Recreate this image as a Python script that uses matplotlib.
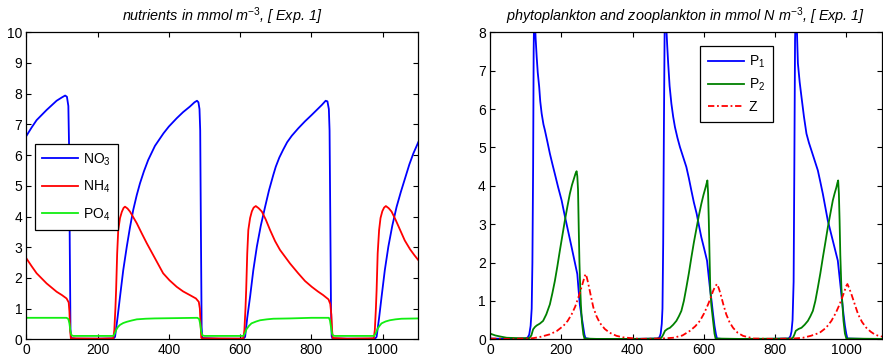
import numpy as np
import matplotlib
matplotlib.use('Agg')
import matplotlib.pyplot as plt

plt.rcParams['font.family'] = ['Liberation Sans', 'DejaVu Sans']
plt.rcParams['mathtext.fontset'] = 'custom'
plt.rcParams['mathtext.rm'] = 'Liberation Sans'
plt.rcParams['mathtext.it'] = 'Liberation Sans:italic'
plt.rcParams['mathtext.default'] = 'regular'

# =======================
#  data (time in days)
# =======================
no3_t = [0, 15, 29, 57, 85, 100, 109, 114, 118, 120, 122, 124, 126, 140, 200, 245, 249, 256, 263, 272,
         282, 291, 300, 310, 319, 330, 342, 361, 385, 400, 422, 440, 459, 472, 479, 483, 486, 488, 490, 492,
         494, 540, 600, 610, 614, 620, 628, 637, 647, 658, 670, 681, 693, 700, 710, 721, 732, 745, 763, 782,
         801, 815, 829, 840, 845, 849, 851, 853, 855, 857, 859, 900, 960, 979, 983, 990, 997, 1006, 1016, 1027,
         1039, 1051, 1063, 1075, 1086, 1100]
no3_v = [6.62, 6.9, 7.14, 7.47, 7.77, 7.88, 7.94, 7.9, 7.6, 6.3, 3.0, 0.3, 0.04, 0.02, 0.02, 0.03, 0.08, 0.7, 1.39, 2.25,
         3.02, 3.65, 4.21, 4.7, 5.08, 5.47, 5.84, 6.3, 6.71, 6.93, 7.2, 7.4, 7.58, 7.72, 7.77, 7.72, 7.5, 6.8, 3.5, 0.4,
         0.04, 0.02, 0.02, 0.03, 0.08, 0.7, 1.39, 2.25, 3.02, 3.7, 4.31, 4.85, 5.35, 5.62, 5.92, 6.18, 6.42, 6.63, 6.87, 7.1,
         7.31, 7.47, 7.63, 7.77, 7.75, 7.5, 6.8, 4.0, 1.0, 0.1, 0.03, 0.02, 0.02, 0.03, 0.08, 0.7, 1.39, 2.25, 3.02, 3.7,
         4.31, 4.8, 5.25, 5.7, 6.05, 6.42]

nh4_t = [0, 15, 29, 57, 85, 100, 113, 119, 121, 123, 125, 200, 244, 247, 250, 252, 255, 258, 263, 268,
         273, 277, 284, 291, 300, 310, 324, 338, 361, 384, 402, 422, 440, 459, 476, 484, 487, 489, 491, 494,
         600, 609, 612, 615, 617, 620, 623, 628, 633, 638, 644, 652, 661, 672, 684, 698, 712, 726, 740, 763,
         782, 801, 818, 833, 848, 853, 856, 858, 860, 900, 975, 978, 981, 983, 986, 990, 994, 999, 1004, 1009,
         1017, 1025, 1036, 1049, 1062, 1077, 1089, 1100]
nh4_v = [2.64, 2.38, 2.15, 1.82, 1.55, 1.44, 1.33, 1.2, 0.9, 0.3, 0.03, 0.02, 0.03, 0.3, 1.0, 1.6, 2.8, 3.56, 3.95, 4.15,
         4.28, 4.32, 4.26, 4.16, 3.98, 3.78, 3.45, 3.13, 2.64, 2.15, 1.92, 1.71, 1.56, 1.44, 1.33, 1.22, 1.0, 0.5, 0.05, 0.03,
         0.02, 0.03, 0.3, 1.0, 1.6, 2.8, 3.56, 3.95, 4.17, 4.29, 4.34, 4.27, 4.16, 3.9, 3.56, 3.2, 2.91, 2.69, 2.47, 2.15,
         1.9, 1.71, 1.56, 1.44, 1.3, 1.15, 0.8, 0.3, 0.04, 0.02, 0.03, 0.3, 1.0, 1.6, 2.8, 3.56, 3.95, 4.17, 4.29, 4.34,
         4.27, 4.16, 3.9, 3.56, 3.22, 2.93, 2.74, 2.58]

po4_t = [0, 50, 113, 118, 121, 124, 127, 132, 244, 248, 252, 257, 263, 272, 282, 295, 310, 335, 360, 420,
         480, 485, 488, 491, 494, 500, 609, 613, 618, 625, 632, 645, 656, 675, 693, 740, 800, 849, 852, 855,
         858, 861, 866, 976, 980, 986, 992, 997, 1008, 1020, 1036, 1053, 1100]
po4_v = [0.70, 0.70, 0.70, 0.66, 0.52, 0.25, 0.13, 0.11, 0.11, 0.18, 0.30, 0.40, 0.47, 0.53, 0.57, 0.61, 0.65, 0.67, 0.68, 0.69,
         0.70, 0.66, 0.5, 0.25, 0.13, 0.11, 0.11, 0.18, 0.33, 0.44, 0.52, 0.58, 0.62, 0.65, 0.67, 0.68, 0.70, 0.70, 0.62, 0.4,
         0.18, 0.12, 0.11, 0.11, 0.18, 0.35, 0.45, 0.52, 0.58, 0.62, 0.65, 0.67, 0.68]

p1_t = [0, 60, 100, 106, 110, 114, 117, 119, 121, 122.5, 124, 126, 128, 131, 134, 138, 141, 145, 150, 154,
        161, 168, 175, 182, 191, 201, 208, 215, 222, 229, 237, 245, 248, 252, 257, 262, 265, 268, 280, 400,
        470, 476, 479, 482, 484, 486, 488, 490, 492, 494, 497, 500, 504, 509, 514, 519, 526, 533, 542, 551,
        558, 565, 572, 580, 586, 593, 601, 609, 613, 617, 622, 626, 630, 634, 637, 650, 780, 838, 843, 846,
        849, 852, 854, 856, 858, 860, 862, 864, 869, 874, 881, 888, 895, 902, 911, 920, 927, 934, 941, 948,
        955, 962, 969, 976, 980, 984, 988, 992, 996, 1000, 1003, 1050, 1100]
p1_v = [0.02, 0.01, 0.02, 0.05, 0.12, 0.35, 0.8, 2.0, 4.5, 7.5, 8.6, 8.3, 7.85, 7.36, 6.95, 6.58, 6.2, 5.88, 5.6, 5.45,
        5.15, 4.84, 4.57, 4.31, 3.97, 3.62, 3.3, 3.0, 2.7, 2.4, 2.05, 1.7, 1.35, 0.91, 0.6, 0.3, 0.12, 0.03, 0.01, 0.01,
        0.02, 0.06, 0.15, 0.4, 0.8, 2.5, 5.5, 8.0, 8.6, 8.3, 7.7, 7.19, 6.6, 6.14, 5.8, 5.53, 5.25, 5.01, 4.75, 4.49,
        4.2, 3.88, 3.57, 3.27, 2.98, 2.66, 2.36, 2.05, 1.7, 1.35, 0.98, 0.65, 0.35, 0.13, 0.02, 0.01, 0.01, 0.02, 0.08, 0.2,
        0.5, 1.5, 4.5, 7.8, 8.6, 8.5, 7.8, 7.19, 6.7, 6.32, 5.8, 5.36, 5.12, 4.92, 4.66, 4.4, 4.1, 3.79, 3.44, 3.09,
        2.83, 2.57, 2.31, 2.05, 1.7, 1.35, 1.0, 0.65, 0.35, 0.13, 0.02, 0.01, 0.01]

p2_t = [0, 15, 30, 47, 80, 110, 116, 121, 126, 131, 140, 149, 158, 168, 175, 182, 189, 196, 203, 210,
        217, 224, 230, 236, 240, 243, 245, 247, 249, 251, 253, 255, 258, 262, 265, 300, 400, 475, 481, 486,
        491, 498, 505, 514, 523, 530, 537, 544, 551, 558, 565, 572, 580, 586, 593, 599, 605, 608, 610, 612,
        614, 616, 618, 621, 626, 630, 633, 700, 845, 850, 854, 858, 866, 874, 883, 892, 899, 906, 913, 920,
        927, 934, 941, 948, 955, 962, 967, 972, 975, 977, 979, 981, 983, 986, 989, 992, 996, 1000, 1100]
p2_v = [0.15, 0.1, 0.07, 0.04, 0.03, 0.03, 0.1, 0.26, 0.32, 0.36, 0.41, 0.48, 0.65, 0.91, 1.2, 1.52, 1.9, 2.31, 2.7, 3.09,
        3.45, 3.79, 4.02, 4.2, 4.32, 4.38, 4.25, 3.9, 2.9, 2.0, 1.4, 0.91, 0.45, 0.13, 0.02, 0.01, 0.01, 0.02, 0.04, 0.12,
        0.22, 0.27, 0.3, 0.38, 0.48, 0.6, 0.74, 1.0, 1.35, 1.72, 2.13, 2.52, 2.92, 3.22, 3.53, 3.76, 3.96, 4.07, 4.14, 3.8,
        3.09, 2.2, 1.35, 0.9, 0.48, 0.15, 0.02, 0.01, 0.02, 0.04, 0.12, 0.22, 0.27, 0.3, 0.38, 0.48, 0.6, 0.74, 1.0, 1.35,
        1.72, 2.13, 2.52, 2.92, 3.27, 3.62, 3.8, 3.96, 4.08, 4.14, 3.8, 3.09, 2.2, 1.35, 0.9, 0.48, 0.15, 0.02, 0.01]

z_t = [0, 50, 100, 121, 140, 168, 188, 206, 218, 229, 239, 248, 255, 262, 266, 269, 272, 276, 283, 290,
       299, 308, 322, 336, 355, 374, 420, 480, 514, 540, 561, 576, 589, 601, 612, 620, 626, 632, 637, 642,
       647, 655, 663, 672, 682, 695, 710, 740, 800, 850, 878, 900, 925, 943, 958, 970, 981, 988, 995, 999,
       1003, 1008, 1014, 1024, 1033, 1044, 1056, 1068, 1079, 1090, 1100]
z_v = [0.02, 0.01, 0.02, 0.03, 0.06, 0.13, 0.22, 0.35, 0.48, 0.65, 0.85, 1.09, 1.3, 1.52, 1.65, 1.7, 1.6, 1.44, 1.13, 0.83,
       0.6, 0.43, 0.27, 0.17, 0.09, 0.05, 0.01, 0.02, 0.04, 0.1, 0.22, 0.34, 0.48, 0.68, 0.91, 1.1, 1.26, 1.38, 1.44, 1.33,
       1.18, 0.9, 0.65, 0.45, 0.3, 0.17, 0.09, 0.02, 0.01, 0.02, 0.04, 0.09, 0.17, 0.3, 0.48, 0.68, 0.91, 1.08, 1.26, 1.38,
       1.44, 1.33, 1.18, 0.9, 0.65, 0.45, 0.3, 0.2, 0.13, 0.09, 0.07]

# =======================
#  figure
# =======================
fig = plt.figure(figsize=(8.83, 3.58), dpi=100)
ax1 = fig.add_axes([26.3 / 883, 18.7 / 358, 392 / 883, 307 / 358])
ax2 = fig.add_axes([490 / 883, 18.7 / 358, 392 / 883, 307 / 358])

lw = 1.3
ax1.plot(no3_t, no3_v, color='#0000ff', lw=lw, label='NO$_3$')
ax1.plot(nh4_t, nh4_v, color='#ff0000', lw=lw, label='NH$_4$')
ax1.plot(po4_t, po4_v, color='#11ee11', lw=lw, label='PO$_4$')

ax2.plot(p1_t, p1_v, color='#0000ff', lw=lw, label='P$_1$')
ax2.plot(p2_t, p2_v, color='#008000', lw=lw, label='P$_2$')
ax2.plot(z_t, z_v, color='#ff0000', lw=lw, ls=(0, (3.5, 1.5, 1, 1.5)), label='Z')

ax1.set_xlim(0, 1100)
ax1.set_ylim(0, 10)
ax1.set_yticks(range(0, 11))
ax2.set_xlim(0, 1100)
ax2.set_ylim(0, 8)
ax2.set_yticks(range(0, 9))

for ax in (ax1, ax2):
    ax.set_xticks(range(0, 1001, 200))
    ax.tick_params(direction='in', top=True, right=True, length=3.5, width=0.8,
                   labelsize=10, pad=3)
    for s in ax.spines.values():
        s.set_linewidth(0.9)

ax1.set_title('nutrients in mmol m$^{\\mathit{-3}}$, [ Exp. 1]', style='italic',
              fontsize=10.4, pad=8)
ax2.set_title('phytoplankton and zooplankton in mmol N m$^{\\mathit{-3}}$, [ Exp. 1]',
              style='italic', fontsize=10.4, pad=8)

leg_kw = dict(frameon=True, fancybox=False, framealpha=1, edgecolor='black',
              fontsize=10, handlelength=2.6, handletextpad=0.35,
              borderaxespad=0)
l1 = ax1.legend(loc='upper left', bbox_to_anchor=(0.022, 0.635), labelspacing=0.8,
                borderpad=0.5, **leg_kw)
l2 = ax2.legend(loc='upper left', bbox_to_anchor=(0.536, 0.956), labelspacing=0.5,
                borderpad=0.55, **leg_kw)
for lg in (l1, l2):
    lg.get_frame().set_linewidth(0.9)

fig.savefig('out.png', dpi=100)
